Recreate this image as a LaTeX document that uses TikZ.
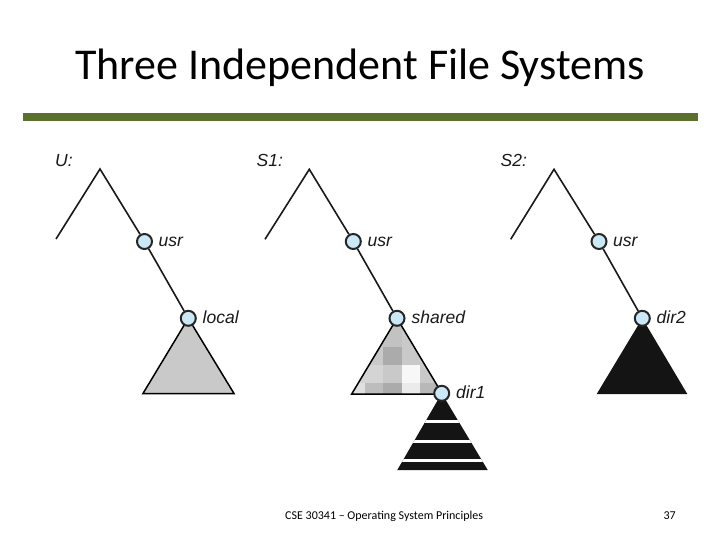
\documentclass[tikz,border=0pt]{standalone}
\usepackage{fontspec}
\setmainfont{Carlito}
\newfontfamily\helv{Liberation Sans}
\definecolor{nodeblue}{HTML}{CBE8F6}
\definecolor{barolive}{RGB}{90,112,44}
\definecolor{trigray}{HTML}{C9C9C9}
\definecolor{blackfill}{HTML}{141414}
\pgfdeclarelayer{bg}
\pgfsetlayers{bg,main}
\begin{document}
\begin{tikzpicture}[x=1pt,y=-1pt,
  branch/.style={line width=1.6pt, draw=black!90},
  dirnode/.style={circle, draw=black!85, line width=2pt, fill=nodeblue, minimum size=15pt, inner sep=0pt},
  dirlabel/.style={anchor=base west, inner sep=0pt, font=\helv\itshape\fontsize{17.5}{20}\selectfont, text=black!90},
  graytri/.style={fill=trigray, draw=black, line width=1.5pt, line join=miter},
  blacktri/.style={fill=blackfill},
  stripe/.style={fill=white}]
\useasboundingbox (0,0) rectangle (720,540);

% title and bar
\node[anchor=base, inner sep=0pt, font=\fontsize{44}{50}\selectfont] (title) at (360,80) {Three Independent File Systems};
\fill[barolive] (23,113) rectangle (698,121.5);

% footer
\node[anchor=base west, inner sep=0pt, font=\fontsize{12}{14}\selectfont] (foot) at (285,519) {CSE 30341 -- Operating System Principles};
\node[anchor=base east, inner sep=0pt, font=\fontsize{12}{14}\selectfont] (page) at (676,519) {37};

% ---------- U ----------
\node[dirlabel] (ulab) at (55,167) {U:};
\coordinate (uroot) at (100,169);
\coordinate (uleft) at (56,239);
\node[dirnode] (uusr) at (144.5,241.5) {};
\node[dirnode] (ulocal) at (188.3,318.3) {};
\node[dirlabel] (uusrl) at (158.5,246.5) {usr};
\node[dirlabel] (ulocall) at (202.5,323.5) {local};
\draw[branch] (uleft) -- (uroot) -- (uusr);
\draw[branch] (uusr) -- (ulocal);
\begin{pgfonlayer}{bg}
\draw[graytri] (ulocal.center) -- (143,393.5) -- (234,393.5) -- cycle;
\end{pgfonlayer}

% ---------- S1 ----------
\node[dirlabel] (s1lab) at (256.5,167) {S1:};
\coordinate (s1root) at (309.3,169.3);
\coordinate (s1left) at (265,239.3);
\node[dirnode] (s1usr) at (353.3,241.5) {};
\node[dirnode] (s1shared) at (397,318.3) {};
\node[dirnode] (s1dir1) at (441.7,393.3) {};
\node[dirlabel] (s1usrl) at (367.5,246.5) {usr};
\node[dirlabel] (s1sharedl) at (411.5,323.5) {shared};
\node[dirlabel] (s1dir1l) at (456,398.5) {dir1};
\draw[branch] (s1left) -- (s1root) -- (s1usr);
\draw[branch] (s1usr) -- (s1shared);
\begin{pgfonlayer}{bg}
% plaid triangle
\begin{scope}
\clip (s1shared.center) -- (351.7,394) -- (442.3,394) -- cycle;
\fill[trigray] (340,310) rectangle (450,400);
\fill[black!24] (383.3,310) rectangle (401.7,347);
\fill[black!33] (383.3,347) rectangle (401.7,365);
\fill[black!17] (340,365) rectangle (383.3,383.3);
\fill[white!97!black] (401.7,365) rectangle (420,383.3);
\fill[black!12] (340,383.3) rectangle (365,400);
\fill[black!26] (365,383.3) rectangle (383.3,400);
\fill[black!33] (383.3,383.3) rectangle (401.7,400);
\fill[black!8] (401.7,383.3) rectangle (420,400);
\fill[black!28] (420,383.3) rectangle (450,400);
\end{scope}
\draw[draw=black, line width=1.5pt, line join=miter] (s1shared.center) -- (351.7,394) -- (442.3,394) -- cycle;
% striped triangle
\begin{scope}
\clip (s1dir1.center) -- (397.3,470) -- (487.7,470) -- cycle;
\fill[blacktri] (390,390) rectangle (495,475);
\fill[stripe] (390,420.2) rectangle (495,423.2);
\fill[stripe] (390,439.5) rectangle (495,442.5);
\fill[stripe] (390,458.5) rectangle (495,461.5);
\end{scope}
\end{pgfonlayer}

% ---------- S2 ----------
\node[dirlabel] (s2lab) at (500.5,167) {S2:};
\coordinate (s2root) at (554,169.3);
\coordinate (s2left) at (510.7,239.3);
\node[dirnode] (s2usr) at (599,241.5) {};
\node[dirnode] (s2dir2) at (642.3,318.3) {};
\node[dirlabel] (s2usrl) at (613,246.5) {usr};
\node[dirlabel] (s2dir2l) at (656.5,323.5) {dir2};
\draw[branch] (s2left) -- (s2root) -- (s2usr);
\draw[branch] (s2usr) -- (s2dir2);
\begin{pgfonlayer}{bg}
\fill[blacktri] (s2dir2.center) -- (596.7,394) -- (687.3,394) -- cycle;
\end{pgfonlayer}
\end{tikzpicture}
\end{document}
